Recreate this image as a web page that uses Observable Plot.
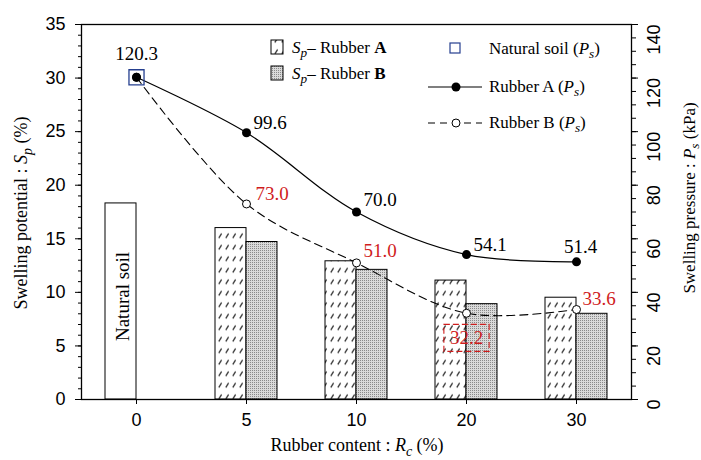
<!DOCTYPE html>
<html><head><meta charset="utf-8">
<script src="https://cdn.jsdelivr.net/npm/d3@7"></script>
<script src="https://cdn.jsdelivr.net/npm/@observablehq/plot@0.6"></script>
<style>body{margin:0;background:#fff;} svg{display:block}</style>
</head><body><div id="chart"></div>
<script>
// ---- data ----
const categories = ["0", "5", "10", "20", "30"];
const naturalSoilSp = 18.3;
const spRubberA = [null, 16.0, 12.9, 11.1, 9.5];
const spRubberB = [null, 14.7, 12.1, 8.9, 8.0];
const psNaturalSoil = 120.3;
const psRubberA = [120.3, 99.6, 70.0, 54.1, 51.4];
const psRubberB = [120.3, 73.0, 51.0, 32.2, 33.6];
const leftTickValues = [0, 5, 10, 15, 20, 25, 30, 35];
const rightTickValues = [0, 20, 40, 60, 80, 100, 120, 140];

// ---- styles ----
const KPA_PER_PCT = 140 / 35;
const serif = "Liberation Serif, Times New Roman, serif";
const sans = "Liberation Sans, Arial, sans-serif";
const red = "#d01c1c";
const navy = "#253f8f";
const labelStyleA = [
  {dx: 0, dy: -23, a: "middle"}, {dx: 7, dy: -10, a: "start"}, {dx: 7, dy: -12, a: "start"},
  {dx: 7, dy: -10, a: "start"}, {dx: 4, dy: -15, a: "middle"}];
const labelStyleB = [
  null, {dx: 9, dy: -10, a: "start"}, {dx: 7, dy: -12, a: "start"},
  {dx: 0, dy: 25, a: "middle"}, {dx: 6, dy: -11, a: "start"}];

const barsA = categories.map((c, i) => ({c, v: spRubberA[i]})).filter(d => d.v != null);
const barsB = categories.map((c, i) => ({c, v: spRubberB[i]})).filter(d => d.v != null);
const natural = [{c: categories[0], v: naturalSoilSp, ps: psNaturalSoil}];
const ptsA = categories.map((c, i) => ({c, ps: psRubberA[i]}));
const ptsB = categories.map((c, i) => ({c, ps: psRubberB[i]}));
const yPs = d => d.ps / KPA_PER_PCT;

const labelMarks = [];
ptsA.forEach((d, i) => {
  const o = labelStyleA[i];
  labelMarks.push(Plot.text([d], {x: "c", y: yPs, text: d => d.ps.toFixed(1), dx: o.dx, dy: o.dy,
    textAnchor: o.a, fontFamily: serif, fontSize: 19, fill: "black"}));
});
ptsB.forEach((d, i) => {
  const o = labelStyleB[i];
  if (!o) return;
  labelMarks.push(Plot.text([d], {x: "c", y: yPs, text: d => d.ps.toFixed(1), dx: o.dx, dy: o.dy,
    textAnchor: o.a, fontFamily: serif, fontSize: 19, fill: red}));
});

const chart = Plot.plot({
  width: 701, height: 460,
  marginTop: 24, marginBottom: 61, marginLeft: 81, marginRight: 70,
  x: {type: "band", domain: categories, padding: 0},
  y: {domain: [0, 35]},
  style: {fontFamily: sans, fontSize: "18px", color: "black", background: "white"},
  marks: [
    Plot.barY(natural, {x: "c", y: "v", fill: "white", stroke: "black", strokeWidth: 1, insetLeft: 24, insetRight: 55}),
    Plot.text(natural, {x: "c", y: d => d.v / 2, text: () => "Natural soil", rotate: -90, dx: -14, dy: -5,
      fontFamily: serif, fontSize: 19, fill: "black"}),
    Plot.barY(barsA, {x: "c", y: "v", fill: "url(#hatchA)", stroke: "black", strokeWidth: 1, insetLeft: 24, insetRight: 55}),
    Plot.barY(barsB, {x: "c", y: "v", fill: "url(#dotB)", stroke: "black", strokeWidth: 1, insetLeft: 55, insetRight: 24}),
    Plot.frame({stroke: "black", strokeWidth: 1.3}),
    Plot.axisY({anchor: "left", ticks: d3.range(0, 35.01, 1), tickSize: 3, tickFormat: () => "", label: null}),
    Plot.axisY({anchor: "left", ticks: leftTickValues, tickSize: 6, tickPadding: 10, label: null,
      fontSize: 18, fontFamily: sans}),
    Plot.axisY({anchor: "right", ticks: d3.range(0, 140.01, 5).map(v => v / KPA_PER_PCT), tickSize: 4, tickFormat: () => "", label: null}),
    Plot.axisY({anchor: "right", ticks: rightTickValues.map(v => v / KPA_PER_PCT), tickSize: 6, tickFormat: () => "", label: null}),
    Plot.text(rightTickValues, {y: d => d / KPA_PER_PCT, text: d => String(d), frameAnchor: "right", dx: 23,
      rotate: -90, fontSize: 18, fontFamily: sans, fill: "black"}),
    Plot.axisX({tickSize: 5, tickPadding: 9, label: null, fontSize: 18, fontFamily: sans}),
    Plot.line(ptsB, {x: "c", y: yPs, curve: "catmull-rom", stroke: "black", strokeWidth: 1.1, strokeDasharray: "8,5"}),
    Plot.line(ptsA, {x: "c", y: yPs, curve: "catmull-rom", stroke: "black", strokeWidth: 1.2}),
    Plot.dot(ptsB, {x: "c", y: yPs, r: 4, fill: "white", stroke: "black", strokeWidth: 1}),
    Plot.dot(natural, {x: "c", y: yPs, symbol: "square", r: 8.5, fill: "none", stroke: navy, strokeWidth: 1.3}),
    Plot.dot(ptsA, {x: "c", y: yPs, r: 4.5, fill: "black"}),
    ...labelMarks
  ]
});
document.getElementById("chart").append(chart);

const svg = d3.select(chart);
const defs = svg.insert("defs", ":first-child");
const pA = defs.append("pattern").attr("id", "hatchA").attr("patternUnits", "userSpaceOnUse")
  .attr("width", 7).attr("height", 11.5);
pA.append("rect").attr("width", 7).attr("height", 11.5).attr("fill", "white");
pA.append("path").attr("d", "M1.8,8 L4.6,3.5").attr("stroke", "#333").attr("stroke-width", 1.3);
const pB = defs.append("pattern").attr("id", "dotB").attr("patternUnits", "userSpaceOnUse")
  .attr("width", 2).attr("height", 2);
pB.append("rect").attr("width", 2).attr("height", 2).attr("fill", "#dadada");
pB.append("rect").attr("width", 1).attr("height", 1).attr("fill", "#8a8a8a");

// dashed box around 32.2
const svgRect = chart.getBoundingClientRect();
chart.querySelectorAll("text").forEach(t => {
  if (t.textContent === psRubberB[3].toFixed(1)) {
    const b = t.getBoundingClientRect();
    svg.append("rect").attr("x", b.left - svgRect.left - 6).attr("y", b.top - svgRect.top - 3)
      .attr("width", b.width + 12).attr("height", b.height + 6)
      .attr("fill", "none").attr("stroke", red).attr("stroke-width", 1.1).attr("stroke-dasharray", "6,3");
  }
});

function richText(g, parts, size) {
  parts.forEach(p => {
    const ts = g.append("tspan").text(p.t);
    if (p.i) ts.attr("font-style", "italic");
    if (p.b) ts.attr("font-weight", "bold");
    if (p.sub) ts.attr("dy", "0.32em").attr("font-size", size * 0.78);
    if (p.up) ts.attr("dy", "-0.25em");
  });
}
function title(tr, parts, size) {
  const t = svg.append("text").attr("transform", tr).attr("text-anchor", "middle")
    .style("font-family", serif).attr("font-size", size).attr("fill", "black");
  richText(t, parts, size);
}
title("translate(27,213) rotate(-90)", [{t: "Swelling potential : "}, {t: "S", i: true}, {t: "p", i: true, sub: true}, {t: " (%)", up: true}], 18);
title("translate(695,198) rotate(-90)", [{t: "Swelling pressure : "}, {t: "P", i: true}, {t: "s", i: true, sub: true}, {t: " (kPa)", up: true}], 17);
title("translate(357,451)", [{t: "Rubber content : "}, {t: "R", i: true}, {t: "c", i: true, sub: true}, {t: " (%)", up: true}], 18);

// legend
const lg = svg.append("g").style("font-family", serif).attr("font-size", 17).attr("fill", "black").attr("text-anchor", "start");
lg.append("rect").attr("x", 271).attr("y", 40).attr("width", 12).attr("height", 14).attr("fill", "url(#hatchA)").attr("stroke", "black");
lg.append("rect").attr("x", 271).attr("y", 66).attr("width", 12).attr("height", 14).attr("fill", "url(#dotB)").attr("stroke", "black");
richText(lg.append("text").attr("x", 292).attr("y", 53), [{t: "S", i: true}, {t: "p", i: true, sub: true}, {t: "– Rubber ", up: true}, {t: "A", b: true}], 17);
richText(lg.append("text").attr("x", 292).attr("y", 79), [{t: "S", i: true}, {t: "p", i: true, sub: true}, {t: "– Rubber ", up: true}, {t: "B", b: true}], 17);
lg.append("rect").attr("x", 450).attr("y", 43).attr("width", 10).attr("height", 10).attr("fill", "none").attr("stroke", navy).attr("stroke-width", 1.2);
richText(lg.append("text").attr("x", 489).attr("y", 54), [{t: "Natural soil ("}, {t: "P", i: true}, {t: "s", i: true, sub: true}, {t: ")", up: true}], 17);
lg.append("line").attr("x1", 428).attr("x2", 482).attr("y1", 87).attr("y2", 87).attr("stroke", "black").attr("stroke-width", 1.2);
lg.append("circle").attr("cx", 456).attr("cy", 87).attr("r", 4.5).attr("fill", "black");
richText(lg.append("text").attr("x", 489).attr("y", 92), [{t: "Rubber A ("}, {t: "P", i: true}, {t: "s", i: true, sub: true}, {t: ")", up: true}], 17);
lg.append("line").attr("x1", 428).attr("x2", 482).attr("y1", 123).attr("y2", 123).attr("stroke", "black").attr("stroke-width", 1.1).attr("stroke-dasharray", "7,5");
lg.append("circle").attr("cx", 456).attr("cy", 123).attr("r", 4).attr("fill", "white").attr("stroke", "black");
richText(lg.append("text").attr("x", 489).attr("y", 128), [{t: "Rubber B ("}, {t: "P", i: true}, {t: "s", i: true, sub: true}, {t: ")", up: true}], 17);
</script>
</body></html>
